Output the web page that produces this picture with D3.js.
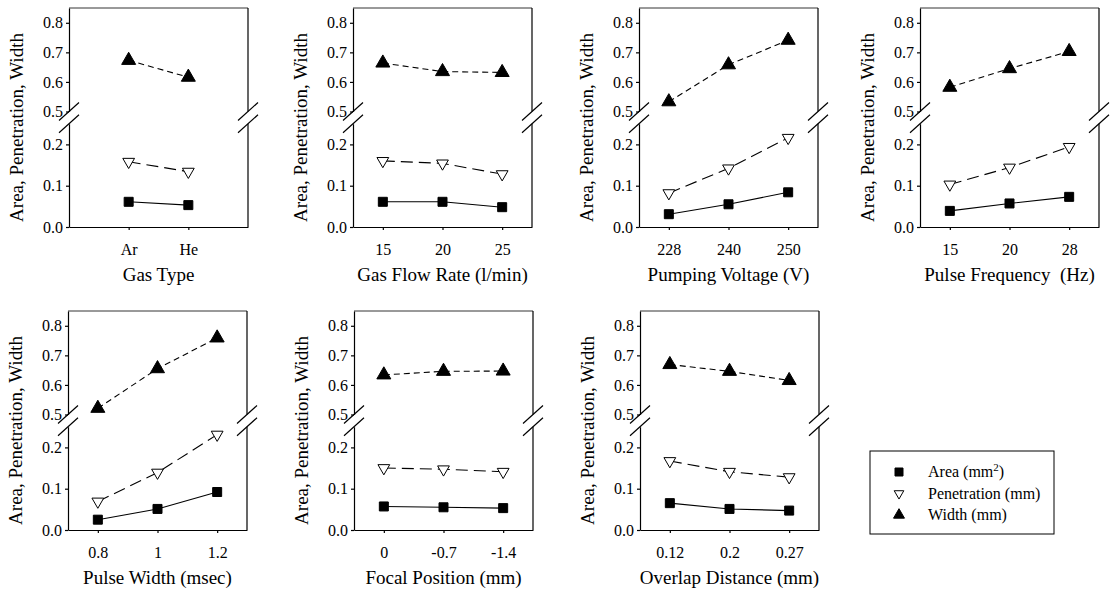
<!DOCTYPE html>
<html>
<head>
<meta charset="utf-8">
<script src="https://cdn.jsdelivr.net/npm/d3@7"></script>
<style>
  body { margin: 0; background: #fff; }
  text { font-family: "Liberation Serif", "Times New Roman", serif; fill: #000; }
</style>
</head>
<body>
<div id="chart"></div>
<script>
// values
const gasTypeCats = ["Ar", "He"];
const gasTypeArea = [0.061, 0.053];
const gasTypePen = [0.158, 0.134];
const gasTypeWidth = [0.673, 0.616];

const flowCats = ["15", "20", "25"];
const flowArea = [0.061, 0.061, 0.048];
const flowPen = [0.160, 0.154, 0.128];
const flowWidth = [0.664, 0.635, 0.632];

const voltCats = ["228", "240", "250"];
const voltArea = [0.031, 0.055, 0.084];
const voltPen = [0.082, 0.142, 0.216];
const voltWidth = [0.533, 0.658, 0.741];

const freqCats = ["15", "20", "28"];
const freqArea = [0.039, 0.057, 0.073];
const freqPen = [0.103, 0.144, 0.194];
const freqWidth = [0.582, 0.645, 0.703];

const pwCats = ["0.8", "1", "1.2"];
const pwArea = [0.025, 0.051, 0.092];
const pwPen = [0.069, 0.139, 0.231];
const pwWidth = [0.521, 0.655, 0.759];

const focalCats = ["0", "-0.7", "-1.4"];
const focalArea = [0.057, 0.055, 0.053];
const focalPen = [0.150, 0.147, 0.141];
const focalWidth = [0.634, 0.646, 0.647];

const overlapCats = ["0.12", "0.2", "0.27"];
const overlapArea = [0.065, 0.051, 0.047];
const overlapPen = [0.167, 0.141, 0.128];
const overlapWidth = [0.669, 0.646, 0.615];

const titles = ["Gas Type", "Gas Flow Rate (l/min)", "Pumping Voltage (V)", "Pulse Frequency  (Hz)",
  "Pulse Width (msec)", "Focal Position (mm)", "Overlap Distance (mm)"];
const yTicksLower = [0.0, 0.1, 0.2];
const yTicksUpper = [0.5, 0.6, 0.7, 0.8];
const seriesNames = ["Area", "Penetration (mm)", "Width (mm)"];

const width = 1113, height = 589;
const pw = 179, ph = 219;

const panels = [
  { cats: gasTypeCats, area: gasTypeArea, pen: gasTypePen, wid: gasTypeWidth, x: 69, y: 8 },
  { cats: flowCats, area: flowArea, pen: flowPen, wid: flowWidth, x: 353, y: 8 },
  { cats: voltCats, area: voltArea, pen: voltPen, wid: voltWidth, x: 639, y: 8 },
  { cats: freqCats, area: freqArea, pen: freqPen, wid: freqWidth, x: 920, y: 8 },
  { cats: pwCats, area: pwArea, pen: pwPen, wid: pwWidth, x: 68, y: 311 },
  { cats: focalCats, area: focalArea, pen: focalPen, wid: focalWidth, x: 354, y: 311 },
  { cats: overlapCats, area: overlapArea, pen: overlapPen, wid: overlapWidth, x: 640, y: 311 },
];

const svg = d3.select("#chart").append("svg")
  .attr("width", width)
  .attr("height", height)
  .style("background", "#fff");

// broken y axis: two linear pieces (lower one is stretched more)
const yLower = d3.scaleLinear().domain([0, 0.25]).range([ph, ph - 0.25 * 413]);
const yUpper = d3.scaleLinear().domain([0.5, 0.85]).range([103.5, 0]);

const fmt = d3.format(".1f");
const sym = {
  area: d3.symbol().type(d3.symbolSquare).size(81),
  pen: d3.symbol().type(d3.symbolTriangle).size(60),
  wid: d3.symbol().type(d3.symbolTriangle).size(85),
};

function yOf(v) {
  return v >= 0.4 ? yUpper(v) : yLower(v);
}

panels.forEach((p, i) => {
  const g = svg.append("g").attr("transform", `translate(${p.x},${p.y})`);

  const x = d3.scalePoint()
    .domain(p.cats)
    .range([0, pw])
    .padding(p.cats.length === 2 ? 1 : 0.5);

  // top border
  g.append("line")
    .attr("x1", 0).attr("x2", pw).attr("y1", 0).attr("y2", 0)
    .attr("stroke", "#000").attr("stroke-width", 0.8);

  // right border in two pieces
  [yUpper.range(), yLower.range()].forEach((r) => {
    g.append("line")
      .attr("x1", pw).attr("x2", pw).attr("y1", r[1]).attr("y2", r[0])
      .attr("stroke", "#000").attr("stroke-width", 1.2);
  });

  // left axes
  const axL = d3.axisLeft(yLower).tickValues(yTicksLower).tickFormat(fmt).tickSizeInner(3).tickSizeOuter(0).tickPadding(3);
  const axU = d3.axisLeft(yUpper).tickValues(yTicksUpper).tickFormat(fmt).tickSizeInner(3).tickSizeOuter(0).tickPadding(3);
  [axL, axU].forEach((ax) => {
    const a = g.append("g").attr("class", "y-axis").call(ax);
    a.attr("font-family", null);
    a.selectAll("text").style("font-size", "16px").style("font-family", "Liberation Serif");
    a.selectAll("path, line").attr("stroke", "#000").attr("stroke-width", 1.2);
  });

  // x axis
  const xAxis = d3.axisBottom(x).tickSizeInner(3).tickSizeOuter(0).tickPadding(14);
  const xa = g.append("g").attr("class", "x-axis")
    .attr("transform", `translate(0,${ph})`)
    .call(xAxis);
  xa.attr("font-family", null);
  xa.selectAll("text").style("font-size", "16px").style("font-family", "Liberation Serif");
  xa.selectAll("path, line").attr("stroke", "#000").attr("stroke-width", 1.2);

  // break marks on both sides
  [0, pw].forEach((bx) => {
    [yUpper(0.5), yLower(0.25)].forEach((by) => {
      g.append("line")
        .attr("x1", bx - 10).attr("y1", by + 9)
        .attr("x2", bx + 10).attr("y2", by - 9)
        .attr("stroke", "#000").attr("stroke-width", 1.2);
    });
  });

  // y label
  g.append("text")
    .attr("transform", `translate(${-46},${ph / 2 + 10}) rotate(-90)`)
    .attr("text-anchor", "middle")
    .style("font-size", "19px")
    .text("Area, Penetration, Width");

  // x title
  g.append("text")
    .attr("x", pw / 2)
    .attr("y", ph + 54)
    .attr("text-anchor", "middle")
    .style("font-size", "19px")
    .style("white-space", "pre")
    .text(titles[i]);

  // series
  const line = d3.line().x((d, j) => x(p.cats[j])).y((d) => yOf(d));
  const series = [
    { key: "area", vals: p.area, dash: null },
    { key: "pen", vals: p.pen, dash: "12,6" },
    { key: "wid", vals: p.wid, dash: "6,4" },
  ];
  series.forEach((s) => {
    g.append("path")
      .datum(s.vals)
      .attr("d", line)
      .attr("fill", "none")
      .attr("stroke", "#000")
      .attr("stroke-width", 1.1)
      .attr("stroke-dasharray", s.dash);
  });
  series.forEach((s) => {
    g.selectAll(".m-" + s.key)
      .data(s.vals)
      .enter()
      .append("path")
      .attr("class", "m-" + s.key)
      .attr("d", sym[s.key])
      .attr("transform", (d, j) => `translate(${x(p.cats[j])},${yOf(d)})` + (s.key === "pen" ? " rotate(180)" : ""))
      .attr("fill", s.key === "pen" ? "#fff" : "#000")
      .attr("stroke", "#000")
      .attr("stroke-width", 1);
  });
});

// legend
const lg = svg.append("g").attr("transform", "translate(870,451)");
lg.append("rect")
  .attr("width", 184).attr("height", 83)
  .attr("fill", "#fff").attr("stroke", "#000").attr("stroke-width", 1);
const legendKeys = ["area", "pen", "wid"];
const lsym = {
  area: d3.symbol().type(d3.symbolSquare).size(64),
  pen: d3.symbol().type(d3.symbolTriangle).size(40),
  wid: d3.symbol().type(d3.symbolTriangle).size(52),
};
legendKeys.forEach((k, i) => {
  const yy = 21 + i * 21.5;
  lg.append("path")
    .attr("d", lsym[k])
    .attr("transform", `translate(29,${yy})` + (k === "pen" ? " rotate(180)" : ""))
    .attr("fill", k === "pen" ? "#fff" : "#000")
    .attr("stroke", "#000");
  const t = lg.append("text")
    .attr("x", 58).attr("y", yy + 5)
    .style("font-size", "16px");
  if (k === "area") {
    t.append("tspan").text("Area (mm");
    t.append("tspan").attr("dy", -6).style("font-size", "11px").text("2");
    t.append("tspan").attr("dy", 6).text(")");
  } else {
    t.text(seriesNames[i]);
  }
});
</script>
</body>
</html>
